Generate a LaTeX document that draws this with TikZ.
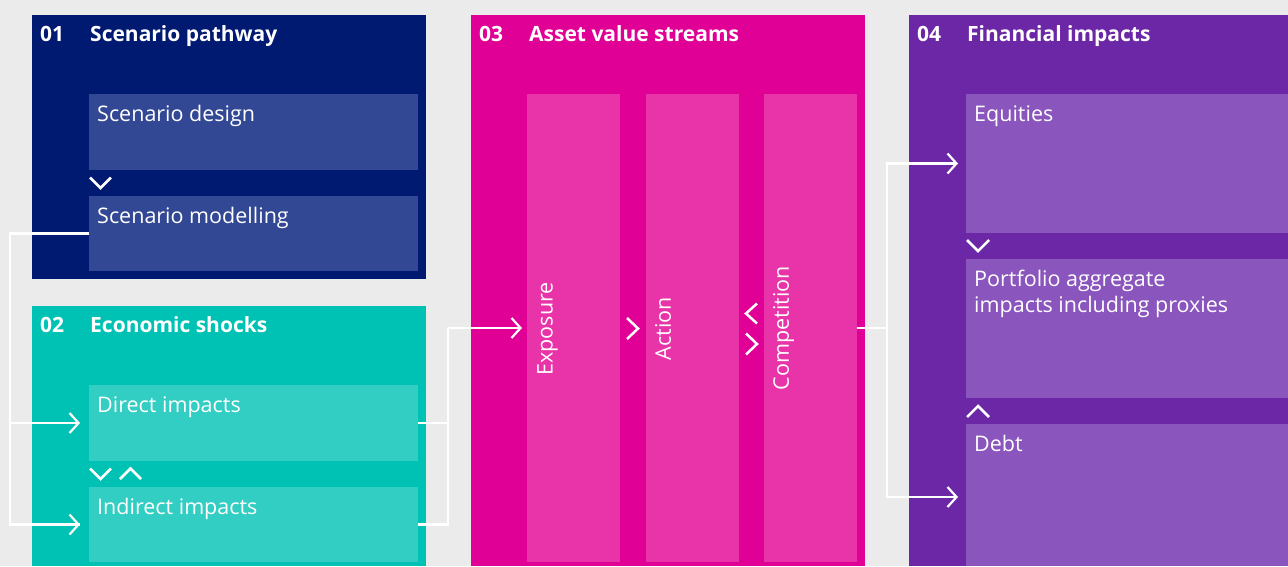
\documentclass[tikz,border=0pt]{standalone}
\usepackage{fontspec}
\setmainfont{Open Sans}
\usetikzlibrary{arrows.meta}
\definecolor{bg}{HTML}{EBEBEB}
\definecolor{navy}{HTML}{001A72}
\definecolor{navyin}{HTML}{334894}
\definecolor{teal}{HTML}{00C2B4}
\definecolor{tealin}{HTML}{33CEC3}
\definecolor{mag}{HTML}{E10096}
\definecolor{magin}{HTML}{E834A8}
\definecolor{purp}{HTML}{6C27A6}
\definecolor{purpin}{HTML}{8A55BC}
\tikzset{
  panel/.style={draw=none, inner sep=0, outer sep=0},
  box/.style={draw=none, inner sep=0, outer sep=0},
  ttl/.style={anchor=base west, inner sep=0, text=white, font=\fontsize{21}{24}\selectfont\bfseries},
  txt/.style={anchor=base west, inner sep=0, text=white, font=\fontsize{21.5}{26}\selectfont},
  vtxt/.style={rotate=90, anchor=north, inner sep=0, text=white, font=\fontsize{21.5}{26}\selectfont},
  conn/.style={draw=white, line width=2.2pt},
  arr/.style={conn, -{Straight Barb[length=9pt, width=20pt, line width=2.2pt]}},
  chev/.style={draw=white, line width=2.5pt}
}
\begin{document}
\begin{tikzpicture}[x=1pt, y=-1pt]
\fill[bg] (0,0) rectangle (1288,566);
\useasboundingbox (0,0) rectangle (1288,566);
% panels
\node[panel, fill=navy, minimum width=394pt, minimum height=264pt] (p1) at (229,147) {};
\node[panel, fill=teal, minimum width=394pt, minimum height=260pt] (p2) at (229,436) {};
\node[panel, fill=mag, minimum width=394pt, minimum height=551pt] (p3) at (668,290.5) {};
\node[panel, fill=purp, minimum width=379pt, minimum height=551pt] (p4) at (1098.5,290.5) {};
% titles
\node[ttl] (t1n) at (40,41) {01};
\node[ttl] (t1) at (90,41) {Scenario pathway};
\node[ttl] (t2n) at (40,332) {02};
\node[ttl] (t2) at (90,332) {Economic shocks};
\node[ttl] (t3n) at (479,41) {03};
\node[ttl] (t3) at (529,41) {Asset value streams};
\node[ttl] (t4n) at (917,41) {04};
\node[ttl] (t4) at (967,41) {Financial impacts};
% inner boxes panel 1
\node[box, fill=navyin, minimum width=329pt, minimum height=76pt] (sdes) at (253.5,132) {};
\node[box, fill=navyin, minimum width=329pt, minimum height=75pt] (smod) at (253.5,233.5) {};
\node[txt] at (97,121) {Scenario design};
\node[txt] at (97,223) {Scenario modelling};
% panel 2
\node[box, fill=tealin, minimum width=329pt, minimum height=76pt] (dir) at (253.5,423) {};
\node[box, fill=tealin, minimum width=329pt, minimum height=75pt] (ind) at (253.5,524.5) {};
\node[txt] at (97,412) {Direct impacts};
\node[txt] at (97,514) {Indirect impacts};
% panel 3 columns
\node[box, fill=magin, minimum width=93pt, minimum height=468pt] (exp) at (573.5,328) {};
\node[box, fill=magin, minimum width=93pt, minimum height=468pt] (act) at (692.5,328) {};
\node[box, fill=magin, minimum width=93pt, minimum height=468pt] (comp) at (810.5,328) {};
\node[vtxt] at (537,329) {Exposure};
\node[vtxt] at (655,328.5) {Action};
\node[vtxt] at (773,328) {Competition};
% panel 4
\node[box, fill=purpin, minimum width=322pt, minimum height=139pt] (eq) at (1127,163.5) {};
\node[box, fill=purpin, minimum width=322pt, minimum height=139pt] (port) at (1127,328.5) {};
\node[box, fill=purpin, minimum width=322pt, minimum height=142pt] (debt) at (1127,495) {};
\node[txt] at (974,121) {Equities};
\node[txt] at (974,286) {Portfolio aggregate};
\node[txt] at (974,312) {impacts including proxies};
\node[txt] at (974,451) {Debt};
% chevrons
\draw[chev] (90,177.5) -- (100.5,188) -- (111,177.5);
\draw[chev] (90,468.5) -- (100.5,479) -- (111,468.5);
\draw[chev] (120,479) -- (130.5,468.5) -- (141,479);
\draw[chev] (627,318) -- (638,328.5) -- (627,339);
\draw[chev] (757,303.5) -- (746,313.5) -- (757,323.5);
\draw[chev] (746,333.5) -- (757,344) -- (746,354.5);
\draw[chev] (967,240) -- (978,251) -- (989,240);
\draw[chev] (967,417) -- (978,406) -- (989,417);
% connectors
\coordinate (c1) at (10,233.5);
\coordinate (c2) at (448,328);
\coordinate (c3) at (887,328);
\draw[conn] (smod.west) -- (c1) |- (ind.west -| 80,0);
\draw[arr] (c1) |- ([xshift=-9pt]dir.west);
\draw[arr] (c1) |- ([xshift=-9pt]ind.west);
\draw[conn] (dir.east) -| (c2);
\draw[conn] (ind.east) -| (c2);
\draw[arr] (c2) -- ([xshift=-5pt]exp.west);
\draw[conn] (comp.east) -- (c3);
\draw[arr] (c3) |- ([xshift=-8pt]eq.west);
\draw[arr] (c3) |- ([xshift=-8pt,yshift=-2pt]debt.west);
\end{tikzpicture}
\end{document}
